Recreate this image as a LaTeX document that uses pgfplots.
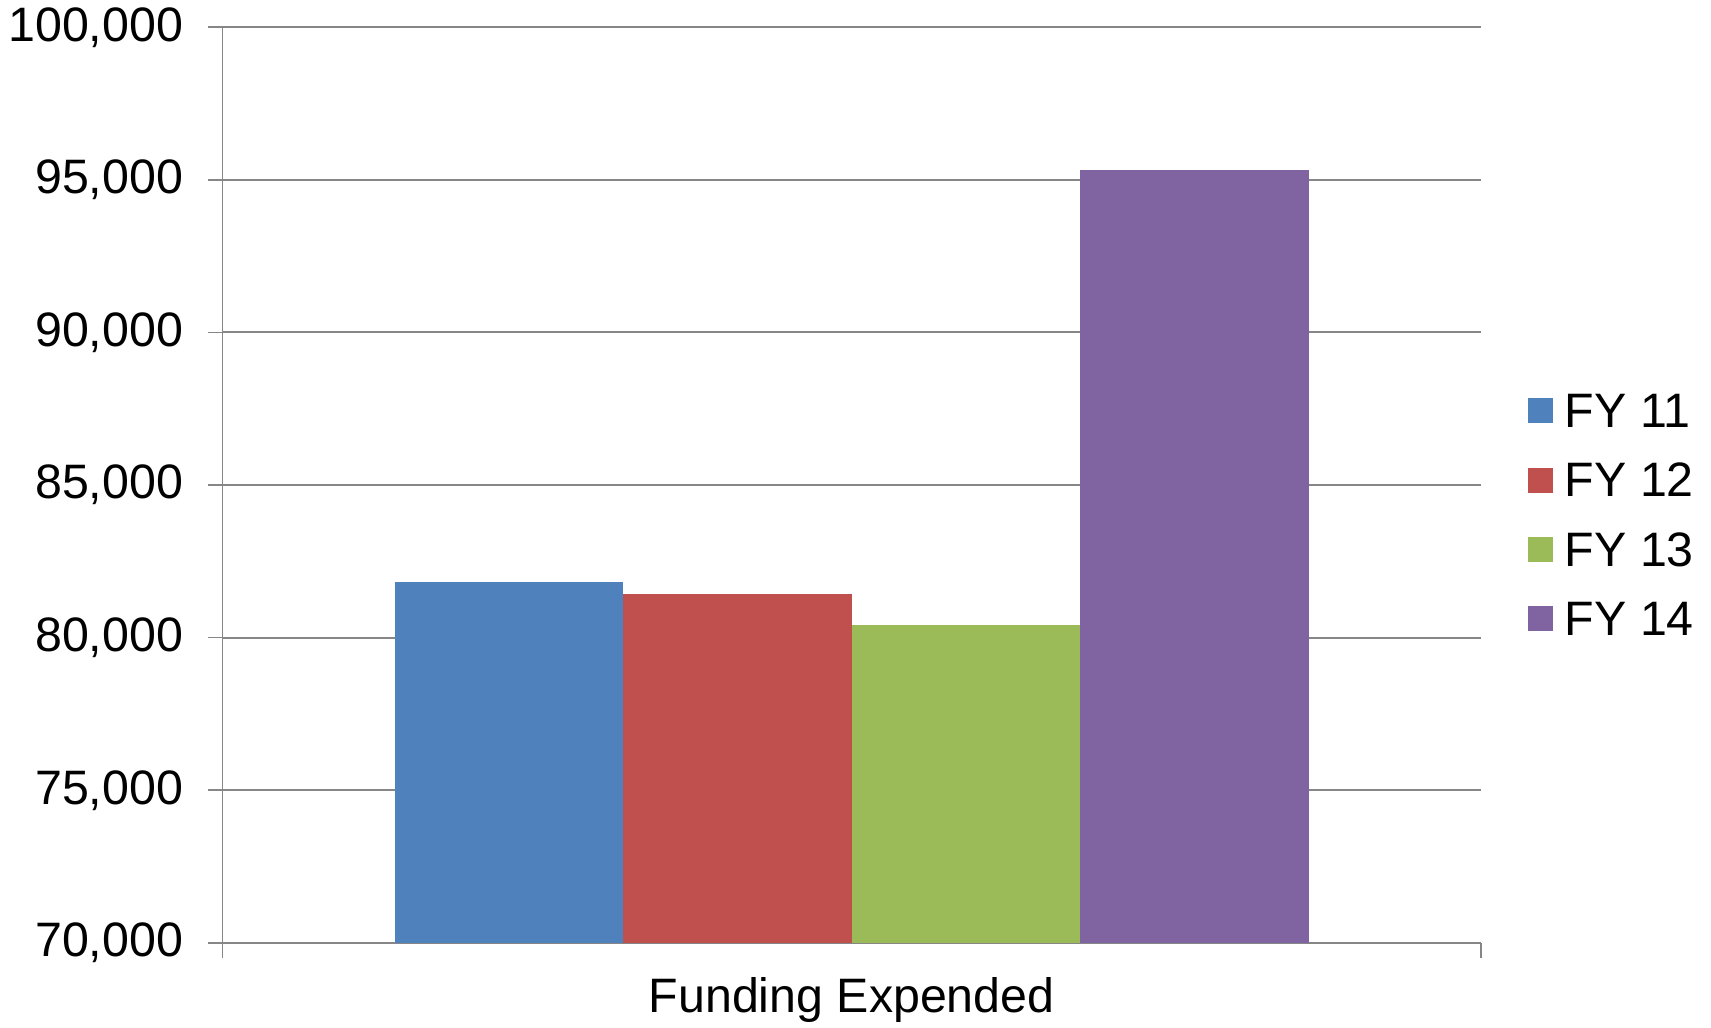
\documentclass[border=0pt]{standalone}
\usepackage{pgfplots}
\pgfplotsset{compat=1.18}
\usepackage{fontspec}
\setmainfont{Liberation Sans}
\definecolor{c1}{HTML}{4F81BD}
\definecolor{c2}{HTML}{C0504D}
\definecolor{c3}{HTML}{9BBB59}
\definecolor{c4}{HTML}{8064A2}
\definecolor{gridc}{RGB}{134,134,134}
\begin{document}
\begin{tikzpicture}
\useasboundingbox (-66.8pt,-25.26pt) rectangle (446.5pt,282.84pt);
\begin{axis}[
  at={(0pt,0pt)}, anchor=south west,
  scale only axis,
  width=377.4pt, height=274.65pt,
  xmin=-0.5, xmax=0.5,
  ymin=70000, ymax=100000,
  ytick={70000,75000,80000,85000,90000,95000,100000},
  yticklabels={{70,000},{75,000},{80,000},{85,000},{90,000},{95,000},{100,000}},
  xtick={-0.5,0.5}, xticklabels={{\mbox{}},{\mbox{}}},
  axis x line*=bottom, axis y line*=left,
  axis line style={draw=gridc, line width=0.5pt},
  tick style={draw=gridc, line width=0.5pt},
  tick align=outside, major tick length=4.5pt,
  ymajorgrids, grid style={draw=gridc, line width=0.6pt},
  scaled ticks=false,
  yticklabel style={font=\fontsize{14.5}{16}\selectfont, inner sep=0pt, anchor=east, xshift=-7.2pt},
  xlabel={Funding Expended},
  xlabel style={font=\fontsize{14.5}{16}\selectfont, at={(axis description cs:0.5,0)}, anchor=base, yshift=-20.8pt, inner sep=0pt},
  legend style={at={(axis description cs:1.0375,0.4673)}, anchor=west, draw=none, fill=none,
    inner sep=0pt, outer sep=0pt, row sep=10.8pt,
    nodes={font=\fontsize{14.5}{16}\selectfont, inner sep=0pt, text height=10pt, text depth=0pt},
    /tikz/every odd column/.style={column sep=3.6pt}},
  legend cell align=left,
  legend image code/.code={\fill[#1] (0pt,-3.75pt) rectangle (7.5pt,3.75pt);},
]
\addplot[ybar, bar width=0.1817, bar shift=0pt, fill=c1, draw=none] coordinates {(-0.2725,81830)};
\addplot[ybar, bar width=0.1817, bar shift=0pt, fill=c2, draw=none] coordinates {(-0.0908,81430)};
\addplot[ybar, bar width=0.1817, bar shift=0pt, fill=c3, draw=none] coordinates {(0.0908,80420)};
\addplot[ybar, bar width=0.1817, bar shift=0pt, fill=c4, draw=none] coordinates {(0.2725,95340)};
\legend{FY 11, FY 12, FY 13, FY 14}
\end{axis}
\end{tikzpicture}
\end{document}
